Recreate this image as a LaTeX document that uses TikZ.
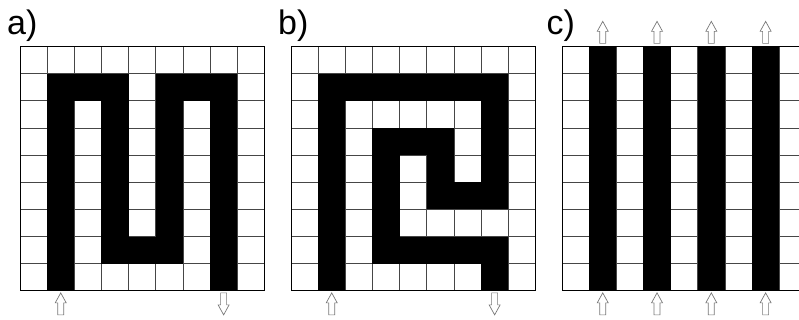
\documentclass[tikz,border=0pt]{standalone}
\usepackage{fontspec}
\setmainfont{Liberation Sans}
\definecolor{gridgray}{RGB}{70,70,70}
\definecolor{arrowgray}{RGB}{120,120,120}
\tikzset{
	pics/flowarrow/.style={code={
		\draw[arrowgray, fill=white, line width=0.7pt, line join=miter]
			(-3pt,-11pt) -- (-3pt,1pt) -- (-5.5pt,1pt) -- (0pt,11pt)
			-- (5.5pt,1pt) -- (3pt,1pt) -- (3pt,-11pt) -- cycle;}}}

\begin{document}
\begin{tikzpicture}[x=1pt, y=1pt,
		lbl/.style={anchor=base west, inner sep=0pt, font=\fontsize{34}{34}\selectfont},
		gridline/.style={gridgray, line width=0.8pt},
		frame/.style={black, line width=1pt}]
		\useasboundingbox (0,0) rectangle (799,320);
		\clip (0,0) rectangle (799,320);
		\node[lbl] (la) at (7,285) {a)};
		\node[lbl] (lb) at (278,285) {b)};
		\node[lbl] (lc) at (546.5,285) {c)};
		% a) meander
		\begin{scope}[shift={(20,273.5)}, x=27.15pt, y=-27.15pt]
			\foreach \i in {1,...,8} {
				\draw[gridline] (\i,0) -- (\i,9);
				\draw[gridline] (0,\i) -- (9,\i);
			}
			\fill (1,1) rectangle (4,2);
			\fill (5,1) rectangle (8,2);
			\fill (1,1) rectangle (2,9);
			\fill (7,1) rectangle (8,9);
			\fill (3,1) rectangle (4,8);
			\fill (5,1) rectangle (6,8);
			\fill (4,7) rectangle (5,8);
			\draw[frame] (0,0) rectangle (9,9);
			\pic (ina) at (1.5,9.48) {flowarrow};
			\pic[rotate=180] (outa) at (7.5,9.48) {flowarrow};
		\end{scope}
		% b) spiral
		\begin{scope}[shift={(291,273.5)}, x=27.15pt, y=-27.15pt]
			\foreach \i in {1,...,8} {
				\draw[gridline] (\i,0) -- (\i,9);
				\draw[gridline] (0,\i) -- (9,\i);
			}
			\fill (1,1) rectangle (8,2);
			\fill (1,1) rectangle (2,9);
			\fill (7,1) rectangle (8,6);
			\fill (3,3) rectangle (6,4);
			\fill (3,3) rectangle (4,8);
			\fill (5,3) rectangle (6,6);
			\fill (5,5) rectangle (8,6);
			\fill (3,7) rectangle (8,8);
			\fill (7,7) rectangle (8,9);
			\draw[frame] (0,0) rectangle (9,9);
			\pic (inb) at (1.5,9.48) {flowarrow};
			\pic[rotate=180] (outb) at (7.5,9.48) {flowarrow};
		\end{scope}
		% c) straight channels
		\begin{scope}[shift={(562,273.5)}, x=27.15pt, y=-27.15pt]
			\foreach \i in {1,...,8} {
				\draw[gridline] (\i,0) -- (\i,9);
				\draw[gridline] (0,\i) -- (9,\i);
			}
			\foreach \c in {1,3,5,7}
				\fill (\c,0) rectangle (\c+1,9);
			\draw[frame] (0,0) rectangle (9,9);
			\foreach \c [count=\k] in {1,3,5,7} {
				\pic (inc\k) at (\c+0.5,9.48) {flowarrow};
				\pic (outc\k) at (\c+0.5,-0.52) {flowarrow};
			}
		\end{scope}
	\end{tikzpicture}
\end{document}
